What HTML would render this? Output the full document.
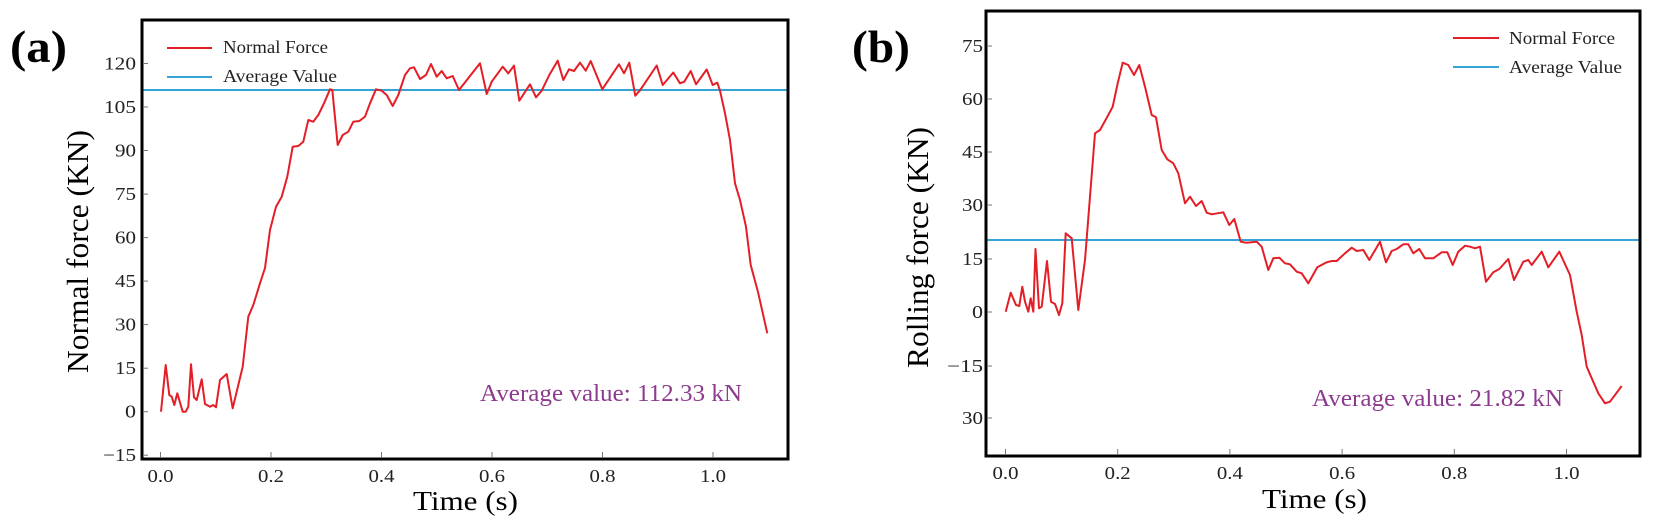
<!DOCTYPE html>
<html>
<head>
<meta charset="utf-8">
<style>
html,body{margin:0;padding:0;background:#fff;}
svg{display:block;}
text{font-family:"Liberation Serif","Times New Roman",serif;}
</style>
</head>
<body>
<svg width="1655" height="530" viewBox="0 0 1655 530" xmlns="http://www.w3.org/2000/svg">
<rect x="0" y="0" width="1655" height="530" fill="#fff"/>

<!-- ============ PANEL (a) ============ -->
<text x="10" y="62" font-size="46" font-weight="bold" textLength="57" lengthAdjust="spacingAndGlyphs">(a)</text>

<!-- avg line -->
<line x1="142" y1="90" x2="788" y2="90" stroke="#36a3d6" stroke-width="2"/>

<!-- data -->
<polyline fill="none" stroke="#e41e26" stroke-width="2" stroke-linejoin="round" points="161,411.7 165.7,365 169.3,395 171.7,396.7 174.3,405 177.3,393.3 182.7,411.7 185.7,411.7 188.3,406.7 191,364.3 194,397.3 196.7,400 201.7,379.3 205,404 210,406.7 213.3,405 216,407.3 220,380 226.7,374 232.7,408.3 242.7,366.7 248.3,316.7 253.3,305 260,283.3 265,268 270,230 276,206.7 281.7,196.7 287.3,176.7 292.7,146.7 298.3,146 303.3,141.7 308.3,120 313.3,121.7 318.3,115 324,103.3 330,89.3 332.3,90 337.7,145 342.7,135 348.3,131.7 353.3,121.7 359.3,121 365,116.7 370,103.3 376,89.3 381.7,90.7 386.7,95 392.7,106 398.3,95 405,75 410,68.3 414,67.3 420,79 426,75 431,64 436.7,76.7 441.7,71 446.7,78.3 452.7,76 459,90 480,63.3 486.7,94 491.7,81.7 502.7,66.7 508.3,73.3 514,65.7 519.3,100.7 530,84.3 536,97.3 541.7,90.7 549.3,75 557.7,60.7 563.3,80 569,69.3 574,71 580,62.7 585.7,70.7 590.7,61 602.3,89.3 619,64.3 624,73.3 629.3,62.7 635.3,95.7 640.7,89.3 656.7,65.5 662.7,85 673.3,72.5 680,83.3 684.3,81.7 690.7,71 696,84.3 706.7,69.5 712.7,85 717.3,82.7 720,90.7 725,113.3 730,140 735,183.3 740,200 746,226.7 750.7,265 758.3,293.3 767.3,333.3"/>

<!-- axes box -->
<rect x="142" y="20" width="646" height="439" fill="none" stroke="#000" stroke-width="3"/>

<!-- y ticks -->
<g stroke="#777" stroke-width="1">
<line x1="143" y1="63.5" x2="148" y2="63.5"/>
<line x1="143" y1="107" x2="148" y2="107"/>
<line x1="143" y1="150.5" x2="148" y2="150.5"/>
<line x1="143" y1="194.1" x2="148" y2="194.1"/>
<line x1="143" y1="237.6" x2="148" y2="237.6"/>
<line x1="143" y1="281.1" x2="148" y2="281.1"/>
<line x1="143" y1="324.6" x2="148" y2="324.6"/>
<line x1="143" y1="368.2" x2="148" y2="368.2"/>
<line x1="143" y1="411.7" x2="148" y2="411.7"/>
<line x1="143" y1="455.2" x2="148" y2="455.2"/>
<line x1="160.5" y1="458" x2="160.5" y2="452"/>
<line x1="271" y1="458" x2="271" y2="452"/>
<line x1="381.5" y1="458" x2="381.5" y2="452"/>
<line x1="492" y1="458" x2="492" y2="452"/>
<line x1="602.5" y1="458" x2="602.5" y2="452"/>
<line x1="713" y1="458" x2="713" y2="452"/>
</g>

<g font-size="18" fill="#222" text-anchor="end">
<text x="136" y="69.5" textLength="32" lengthAdjust="spacingAndGlyphs">120</text>
<text x="136" y="113" textLength="32" lengthAdjust="spacingAndGlyphs">105</text>
<text x="136" y="156.5" textLength="21" lengthAdjust="spacingAndGlyphs">90</text>
<text x="136" y="200.1" textLength="21" lengthAdjust="spacingAndGlyphs">75</text>
<text x="136" y="243.6" textLength="21" lengthAdjust="spacingAndGlyphs">60</text>
<text x="136" y="287.1" textLength="21" lengthAdjust="spacingAndGlyphs">45</text>
<text x="136" y="330.6" textLength="21" lengthAdjust="spacingAndGlyphs">30</text>
<text x="136" y="374.2" textLength="21" lengthAdjust="spacingAndGlyphs">15</text>
<text x="136" y="417.7" textLength="11" lengthAdjust="spacingAndGlyphs">0</text>
<text x="136" y="461.2" textLength="33" lengthAdjust="spacingAndGlyphs">−15</text>
</g>
<g font-size="18" fill="#222" text-anchor="middle">
<text x="160.5" y="482" textLength="26" lengthAdjust="spacingAndGlyphs">0.0</text>
<text x="271" y="482" textLength="26" lengthAdjust="spacingAndGlyphs">0.2</text>
<text x="381.5" y="482" textLength="26" lengthAdjust="spacingAndGlyphs">0.4</text>
<text x="492" y="482" textLength="26" lengthAdjust="spacingAndGlyphs">0.6</text>
<text x="602.5" y="482" textLength="26" lengthAdjust="spacingAndGlyphs">0.8</text>
<text x="713" y="482" textLength="26" lengthAdjust="spacingAndGlyphs">1.0</text>
</g>

<text x="413" y="510" font-size="27" fill="#000" textLength="105" lengthAdjust="spacingAndGlyphs">Time (s)</text>
<text transform="translate(88,373) rotate(-90)" font-size="31" fill="#000" textLength="243" lengthAdjust="spacingAndGlyphs">Normal force (KN)</text>

<!-- legend a -->
<line x1="167" y1="48" x2="212" y2="48" stroke="#e41e26" stroke-width="2"/>
<line x1="167" y1="77" x2="212" y2="77" stroke="#36a3d6" stroke-width="2"/>
<text x="223" y="53" font-size="18" fill="#222" textLength="105" lengthAdjust="spacingAndGlyphs">Normal Force</text>
<text x="223" y="82" font-size="18" fill="#222" textLength="114" lengthAdjust="spacingAndGlyphs">Average Value</text>

<text x="480" y="401" font-size="24" fill="#8d3b8f" textLength="262" lengthAdjust="spacingAndGlyphs">Average value: 112.33 kN</text>

<!-- ============ PANEL (b) ============ -->
<text x="852" y="62" font-size="46" font-weight="bold" textLength="58" lengthAdjust="spacingAndGlyphs">(b)</text>

<line x1="986" y1="240" x2="1640" y2="240" stroke="#36a3d6" stroke-width="2"/>

<polyline fill="none" stroke="#e41e26" stroke-width="2" stroke-linejoin="round" points="1005.7,311.7 1010.7,292.7 1016,305 1019.3,306 1022.3,286.7 1025,301.7 1028.3,311.7 1030.7,298.3 1033.3,311.7 1035.5,249 1039,308.3 1041.7,306.7 1047,261 1051,301.7 1055,304 1059,315 1062.3,303.3 1065.7,233.3 1071.7,238.3 1078.3,310 1085,260 1095,133.3 1100,130 1108.3,115 1112.7,106.7 1117.7,83.3 1122.7,62.7 1128.3,65 1134,75 1139.3,65 1145,86.7 1151.7,115 1156,117.3 1161.7,150 1167.3,159.3 1173.3,163.3 1178.3,173.3 1185,203.3 1190,196.7 1196,206 1201.7,201 1206.7,212.7 1211.7,214.3 1223.3,212.3 1229.3,225 1234.3,219 1240.7,241.7 1246,242.7 1256.7,241.7 1261.7,246.7 1268.3,270 1273.3,258.3 1279.3,257.7 1285,263.3 1290,264.3 1296.7,271.7 1301.7,273.3 1308.3,283.3 1317.3,267.3 1326.7,262.3 1331.7,261 1336.7,261 1345,253.3 1351.7,247.7 1356.7,251 1363.3,250 1369.3,260 1380,241.7 1386,262.3 1391.7,251 1396.7,249 1403.3,244.3 1408.3,244.3 1413.3,253.3 1419.3,249 1425,258.3 1433.3,258.3 1441.7,252.3 1447.3,252.3 1452.7,265 1458.3,251.7 1465,245.7 1470,246.7 1475,248.3 1480,246.7 1486,281.7 1493.3,272.3 1499.3,269 1508.3,259 1514,280 1523.3,261.7 1528.3,260 1531.7,265 1541.7,251.7 1548.3,267.3 1559.3,251.7 1570,275 1576.7,311.7 1581.7,335 1586.7,366.7 1598.3,393.3 1605,403.3 1610,401.7 1621.7,386"/>

<rect x="986" y="11" width="654" height="445" fill="none" stroke="#000" stroke-width="3"/>

<g stroke="#777" stroke-width="1">
<line x1="987" y1="46" x2="992" y2="46"/>
<line x1="987" y1="99" x2="992" y2="99"/>
<line x1="987" y1="152" x2="992" y2="152"/>
<line x1="987" y1="205" x2="992" y2="205"/>
<line x1="987" y1="259" x2="992" y2="259"/>
<line x1="987" y1="312" x2="992" y2="312"/>
<line x1="987" y1="366" x2="992" y2="366"/>
<line x1="987" y1="418" x2="992" y2="418"/>
<line x1="1005.5" y1="455" x2="1005.5" y2="449"/>
<line x1="1117.7" y1="455" x2="1117.7" y2="449"/>
<line x1="1229.9" y1="455" x2="1229.9" y2="449"/>
<line x1="1342.1" y1="455" x2="1342.1" y2="449"/>
<line x1="1454.3" y1="455" x2="1454.3" y2="449"/>
<line x1="1566.5" y1="455" x2="1566.5" y2="449"/>
</g>

<g font-size="18" fill="#222" text-anchor="end">
<text x="983" y="52" textLength="21" lengthAdjust="spacingAndGlyphs">75</text>
<text x="983" y="105" textLength="21" lengthAdjust="spacingAndGlyphs">60</text>
<text x="983" y="158" textLength="21" lengthAdjust="spacingAndGlyphs">45</text>
<text x="983" y="211" textLength="21" lengthAdjust="spacingAndGlyphs">30</text>
<text x="983" y="265" textLength="21" lengthAdjust="spacingAndGlyphs">15</text>
<text x="983" y="318" textLength="11" lengthAdjust="spacingAndGlyphs">0</text>
<text x="983" y="372" textLength="36" lengthAdjust="spacingAndGlyphs">−15</text>
<text x="983" y="424" textLength="21" lengthAdjust="spacingAndGlyphs">30</text>
</g>
<g font-size="18" fill="#222" text-anchor="middle">
<text x="1005.5" y="479" textLength="26" lengthAdjust="spacingAndGlyphs">0.0</text>
<text x="1117.7" y="479" textLength="26" lengthAdjust="spacingAndGlyphs">0.2</text>
<text x="1229.9" y="479" textLength="26" lengthAdjust="spacingAndGlyphs">0.4</text>
<text x="1342.1" y="479" textLength="26" lengthAdjust="spacingAndGlyphs">0.6</text>
<text x="1454.3" y="479" textLength="26" lengthAdjust="spacingAndGlyphs">0.8</text>
<text x="1566.5" y="479" textLength="26" lengthAdjust="spacingAndGlyphs">1.0</text>
</g>

<text x="1262" y="508" font-size="27" fill="#000" textLength="105" lengthAdjust="spacingAndGlyphs">Time (s)</text>
<text transform="translate(928,368) rotate(-90)" font-size="31" fill="#000" textLength="241" lengthAdjust="spacingAndGlyphs">Rolling force (KN)</text>

<!-- legend b -->
<line x1="1453" y1="38" x2="1499" y2="38" stroke="#e41e26" stroke-width="2"/>
<line x1="1453" y1="67" x2="1499" y2="67" stroke="#36a3d6" stroke-width="2"/>
<text x="1509" y="44" font-size="18" fill="#222" textLength="106" lengthAdjust="spacingAndGlyphs">Normal Force</text>
<text x="1509" y="73" font-size="18" fill="#222" textLength="113" lengthAdjust="spacingAndGlyphs">Average Value</text>

<text x="1312" y="406" font-size="24" fill="#8d3b8f" textLength="251" lengthAdjust="spacingAndGlyphs">Average value: 21.82 kN</text>
</svg>
</body>
</html>
